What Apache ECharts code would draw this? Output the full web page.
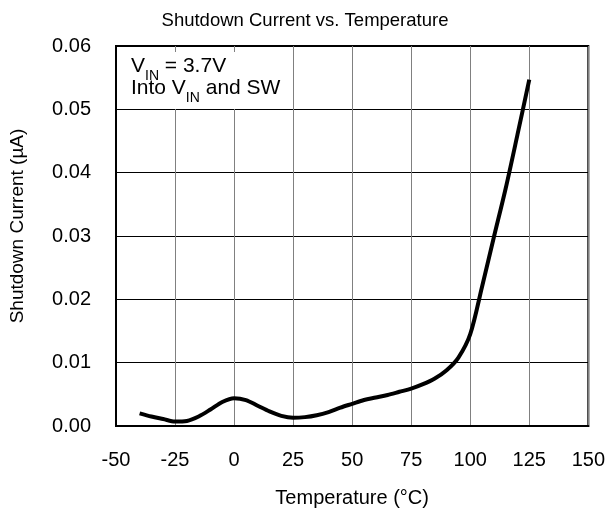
<!DOCTYPE html>
<html>
<head>
<meta charset="utf-8">
<script src="https://cdn.jsdelivr.net/npm/echarts@6/dist/echarts.min.js"></script>
<style>
  html, body { margin: 0; padding: 0; background: #fff; }
  #main { width: 608px; height: 513px; }
</style>
</head>
<body>
<div id="main"></div>
<script>
    // temperature (°C) and shutdown current (µA)
    var temps = [-40, -35, -30, -25, -20, -15, -10, -5, 0, 5, 10, 15, 20, 25, 30, 35, 40, 45, 50, 55, 60, 65, 70, 75, 80, 85, 90, 95, 100, 105, 110, 115, 120, 125];
    var current = [0.0020, 0.0015, 0.0011, 0.0007, 0.0008, 0.0015, 0.0026, 0.0038, 0.0044, 0.0041, 0.0032, 0.0023, 0.0016, 0.0013, 0.0014, 0.0017, 0.0022, 0.0029, 0.0035, 0.0041, 0.0045, 0.0049, 0.0054, 0.0059, 0.0066, 0.0075, 0.0088, 0.0108, 0.0145, 0.0220, 0.0298, 0.0375, 0.0460, 0.0547];

    var chart = echarts.init(document.getElementById('main'));
    var font = 'Liberation Sans, Arial, sans-serif';

    var pts = [];
    for (var i = 0; i < temps.length; i++) {
        pts.push([temps[i], current[i]]);
    }

    var option = {
        animation: false,
        title: {
            text: 'Shutdown Current vs. Temperature',
            left: 300,
            textAlign: 'center',
            top: 6,
            textStyle: { fontFamily: font, fontSize: 18.5, fontWeight: 'normal', color: '#000' }
        },
        grid: {
            left: 116, right: 19, top: 46, bottom: 87,
            show: true, borderColor: '#000', borderWidth: 2, backgroundColor: 'transparent'
        },
        xAxis: {
            type: 'value',
            min: -50, max: 150, interval: 25,
            name: 'Temperature (\u00b0C)',
            nameLocation: 'middle',
            nameGap: 62,
            nameTextStyle: { fontFamily: font, fontSize: 20, color: '#000' },
            axisLine: { show: true, onZero: false, lineStyle: { color: '#000', width: 2 } },
            axisTick: { show: false },
            axisLabel: { fontFamily: font, fontSize: 20, color: '#000', margin: 24 },
            splitLine: { show: true, lineStyle: { color: '#808080', width: 1 } }
        },
        yAxis: {
            type: 'value',
            min: 0, max: 0.06, interval: 0.01,
            name: 'Shutdown Current (\u00b5A)',
            nameLocation: 'middle',
            nameGap: 89,
            nameTextStyle: { fontFamily: font, fontSize: 19, color: '#000', padding: [0, 0, 0, 20] },
            axisLine: { show: true, onZero: false, lineStyle: { color: '#000', width: 2 } },
            axisTick: { show: false },
            axisLabel: {
                fontFamily: font, fontSize: 20, color: '#000', margin: 25,
                formatter: function (v) { return v.toFixed(2); }
            },
            splitLine: { show: true, lineStyle: { color: '#000', width: 1 } }
        },
        graphic: [{
            type: 'rect',
            shape: { x: 119, y: 52, width: 170, height: 57 },
            style: { fill: '#fff' },
            z: 50
        }, {
            type: 'text',
            left: 131,
            top: 56,
            z: 51,
            style: {
                text: '{n|V}{s|IN}{n| = 3.7V}\n{n|Into V}{s|IN}{n| and SW}',
                rich: {
                    n: { fontFamily: font, fontSize: 21, color: '#000', lineHeight: 22, verticalAlign: 'bottom' },
                    s: { fontFamily: font, fontSize: 14, color: '#000', lineHeight: 22, verticalAlign: 'bottom', padding: [0, 0, -6, 0] }
                }
            }
        }],
        series: [{
            type: 'line',
            data: pts,
            smooth: 0.3,
            showSymbol: false,
            lineStyle: { color: '#000', width: 4 },
            z: 10
        }]
    };

    chart.setOption(option);
</script>
</body>
</html>
